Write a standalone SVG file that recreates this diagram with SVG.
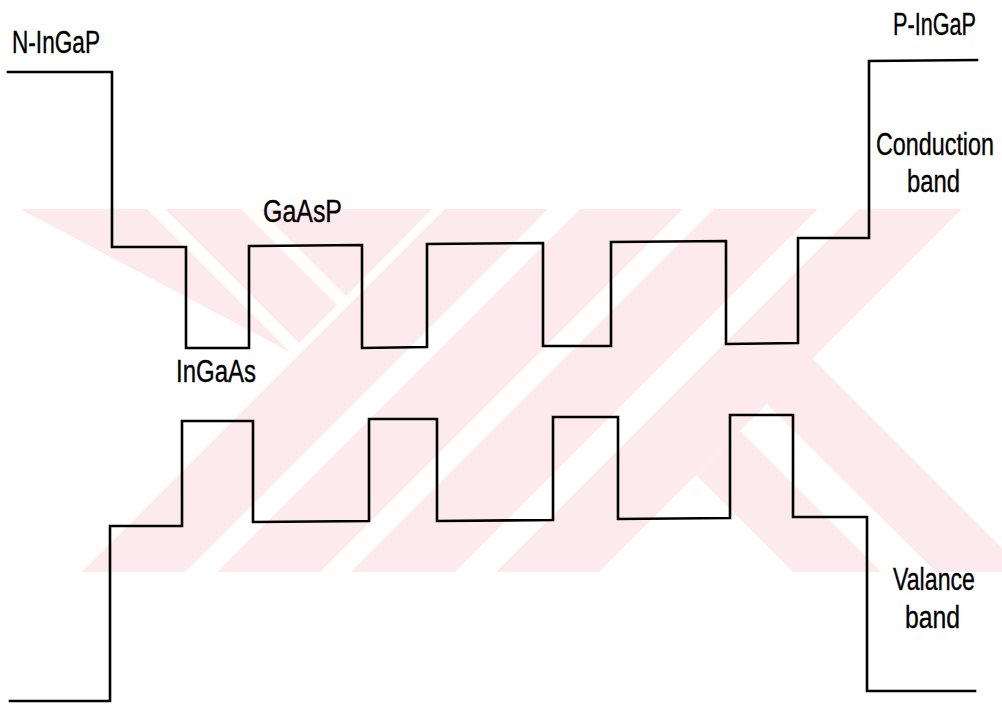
<svg xmlns="http://www.w3.org/2000/svg" width="1002" height="707" viewBox="0 0 1002 707">
  <style>
    .wm { fill: #fdeaee; stroke: none; }
    .band { fill: none; stroke: #000; stroke-width: 2.6; stroke-linejoin: miter; stroke-linecap: square; }
    .lbl { font-family: "Liberation Sans", Arial, sans-serif; font-size: 31px; fill: #000; stroke: #000; stroke-width: 0.35; }
  </style>
  <rect width="1002" height="707" fill="#fff"/>
  <g id="watermark">
    <polygon class="wm" points="20,209 147,209 290,352"/>
    <polygon class="wm" points="165,209 241,209 337,305 299,343"/>
    <polygon class="wm" points="259,209 432,209 346,296"/>
    <polygon class="wm" points="82,572 185,572 548,209 445,209"/>
    <polygon class="wm" points="217,572 320,572 683,209 580,209"/>
    <polygon class="wm" points="351,572 455,572 818,209 714,209"/>
    <polygon class="wm" points="496,572 599,572 962,209 859,209"/>
    <polygon class="wm" points="696,475 740,431 881,572 793,572"/>
    <polygon class="wm" points="767,404 812,358 1002,548 1002,572 936,572"/>
  </g>
  <g id="connectors">
    <polyline id="conduction-band" class="band" points="8,72 112,72 112,247 186,247 186,348 249,348 249,246 362,245 362,348 427,347 427,244 543,243 543,346 611,346 611,242 726,241 726,344 798,343 798,238 869,238 869,61 977,60"/>
    <polyline id="valence-band" class="band" points="10,701 110,701 110,526 182,526 182,421 253,421 253,522 369,521 369,419 437,419 437,521 553,520 553,417 618,417 618,519 730,518 730,415 793,415 793,517 867,517 867,691 975,691"/>
  </g>
  <g id="label-n-ingap"><text class="lbl" x="12" y="53" textLength="88" lengthAdjust="spacingAndGlyphs">N-InGaP</text></g>
  <g id="label-p-ingap"><text class="lbl" x="893" y="35" textLength="83" lengthAdjust="spacingAndGlyphs">P-InGaP</text></g>
  <g id="label-gaasp"><text class="lbl" x="263" y="222" textLength="79" lengthAdjust="spacingAndGlyphs">GaAsP</text></g>
  <g id="label-ingaas"><text class="lbl" x="176" y="382" textLength="80" lengthAdjust="spacingAndGlyphs">InGaAs</text></g>
  <g id="label-conduction">
    <text class="lbl" x="876" y="155" textLength="118" lengthAdjust="spacingAndGlyphs">Conduction</text>
    <text class="lbl" x="907" y="192" textLength="53" lengthAdjust="spacingAndGlyphs">band</text>
  </g>
  <g id="label-valance">
    <text class="lbl" x="893" y="590" textLength="82" lengthAdjust="spacingAndGlyphs">Valance</text>
    <text class="lbl" x="905" y="628" textLength="55" lengthAdjust="spacingAndGlyphs">band</text>
  </g>
</svg>
